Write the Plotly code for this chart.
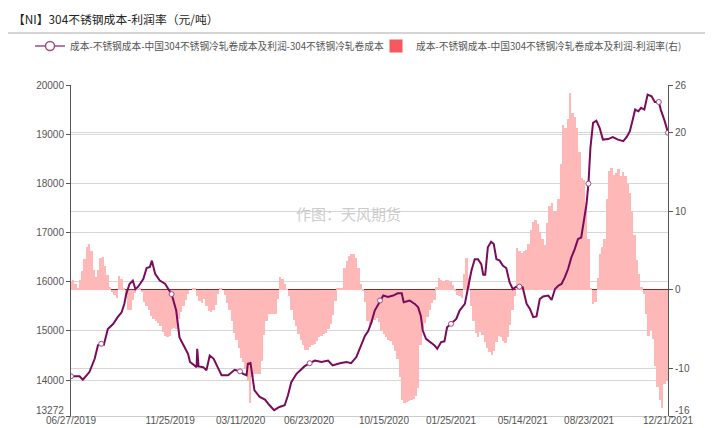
import pandas as pd
import plotly.graph_objects as go

# ---------------- data ----------------
title_text = "【NI】304不锈钢成本-利润率（元/吨）"
line_name = "成本-不锈钢成本-中国304不锈钢冷轧卷成本及利润-304不锈钢冷轧卷成本"
bar_name = "成本-不锈钢成本-中国304不锈钢冷轧卷成本及利润-利润率(右)"

line_dates = [
    "2019-06-27", "2019-07-10", "2019-07-15", "2019-07-25", "2019-08-02", "2019-08-07",
    "2019-08-12", "2019-08-16", "2019-08-22", "2019-08-30", "2019-09-06", "2019-09-12",
    "2019-09-16", "2019-09-19", "2019-09-24", "2019-09-29", "2019-10-03", "2019-10-07",
    "2019-10-15", "2019-10-20", "2019-10-25", "2019-10-28", "2019-11-02", "2019-11-09",
    "2019-11-17", "2019-11-27", "2019-12-04", "2019-12-09", "2019-12-14", "2019-12-22",
    "2019-12-25", "2019-12-31", "2020-01-04", "2020-01-05", "2020-01-07", "2020-01-14",
    "2020-01-19", "2020-01-24", "2020-01-30", "2020-02-05", "2020-02-11", "2020-02-21",
    "2020-03-02", "2020-03-10", "2020-03-15", "2020-03-20", "2020-03-22", "2020-03-26",
    "2020-03-29", "2020-04-01", "2020-04-09", "2020-04-17", "2020-04-24", "2020-05-01",
    "2020-05-09", "2020-05-17", "2020-05-22", "2020-05-27", "2020-06-04", "2020-06-09",
    "2020-06-16", "2020-06-24", "2020-07-02", "2020-07-12", "2020-07-22", "2020-07-29",
    "2020-08-09", "2020-08-19", "2020-08-26", "2020-09-03", "2020-09-11", "2020-09-16",
    "2020-09-21", "2020-09-26", "2020-10-01", "2020-10-09", "2020-10-14", "2020-10-21",
    "2020-10-29", "2020-11-05", "2020-11-11", "2020-11-14", "2020-11-23", "2020-12-01",
    "2020-12-06", "2020-12-10", "2020-12-13", "2020-12-18", "2020-12-25", "2020-12-31",
    "2021-01-04", "2021-01-10", "2021-01-15", "2021-01-19", "2021-01-25", "2021-02-02",
    "2021-02-07", "2021-02-15", "2021-02-20", "2021-02-25", "2021-03-02", "2021-03-07",
    "2021-03-12", "2021-03-15", "2021-03-18", "2021-03-22", "2021-03-27", "2021-03-31",
    "2021-04-04", "2021-04-09", "2021-04-14", "2021-04-19", "2021-04-24", "2021-04-29",
    "2021-05-04", "2021-05-09", "2021-05-14", "2021-05-20", "2021-05-25", "2021-05-30",
    "2021-06-04", "2021-06-09", "2021-06-14", "2021-06-22", "2021-06-27", "2021-07-02",
    "2021-07-07", "2021-07-12", "2021-07-17", "2021-07-22", "2021-07-27", "2021-08-01",
    "2021-08-06", "2021-08-11", "2021-08-14", "2021-08-19", "2021-08-22", "2021-08-25",
    "2021-08-29", "2021-09-03", "2021-09-08", "2021-09-13", "2021-09-21", "2021-09-28",
    "2021-10-06", "2021-10-14", "2021-10-19", "2021-10-24", "2021-10-29", "2021-11-01",
    "2021-11-06", "2021-11-10", "2021-11-15", "2021-11-20", "2021-11-26", "2021-12-01",
    "2021-12-07", "2021-12-10", "2021-12-16", "2021-12-21",
]
line_values = [
    14080, 14080, 14010, 14165, 14435, 14710,
    14740, 14720, 15040, 15140, 15280, 15380,
    15550, 15750, 15955, 16025, 15850, 15900,
    16055, 16280, 16300, 16430, 16160, 16025,
    15960, 15750, 15415, 14870, 14740, 14535,
    14370, 14300, 14265, 14640, 14280, 14265,
    14200, 14500, 14435, 14265, 14100, 14100,
    14210, 14180, 14130, 14100, 14335, 14350,
    14065, 13795, 13660, 13605, 13490, 13390,
    13455, 13490, 13695, 13960, 14130, 14200,
    14280, 14345, 14400, 14370, 14400, 14300,
    14345, 14370, 14345, 14470, 14740, 14900,
    15000, 15180, 15415, 15620, 15720, 15690,
    15720, 15765, 15765, 15585, 15620, 15550,
    15480, 15310, 15010, 14840, 14775, 14705,
    14640, 14775, 14790, 15075, 15145, 15245,
    15415, 15550, 15890, 16225, 16460, 16460,
    16360, 16145, 16145, 16700, 16815, 16770,
    16460, 16430, 16325, 16280, 15990, 15850,
    15900, 15900, 15890, 15550, 15450, 15280,
    15295, 15650, 15700, 15720, 15630, 15850,
    15920, 15955, 16090, 16260, 16495, 16660,
    16865, 16900, 17135, 17575, 17995, 18725,
    19230, 19275, 19130, 18890, 18900, 18940,
    18890, 18860, 18940, 19060, 19330, 19500,
    19465, 19535, 19500, 19805, 19770, 19655,
    19655, 19500, 19265, 19030,
]

# dates where the chart shows a hollow symbol on the line
symbol_dates = ["2019-06-27", "2019-08-12", "2019-11-27", "2020-03-10", "2020-06-24",
                "2020-10-09", "2021-01-25", "2021-05-09", "2021-08-22", "2021-12-07",
                "2021-12-21"]

# profit rate (%), every 3.5 days from 2019-06-27
bar_start = "2019-06-27"
bar_values = [
    1.0, 1.3, 0.8, 0.3, 1.2, 2.4, 3.9, 5.5, 5.8, 5.0,
    2.5, 1.6, 2.5, 4.0, 4.2, 3.0, 1.9, 0.4, -0.3, -0.7,
    -1.0, 1.8, 1.4, 0.3, -1.0, -2.6, -2.6, -1.3, -0.4, 0.1,
    0.2, -0.3, -1.5, -2.1, -2.6, -3.3, -3.7, -4.0, -4.2, -4.6,
    -5.4, -5.8, -6.0, -5.9, -4.9, -4.8, -4.9, -3.7, -2.8, -2.1,
    -1.3, -0.5, 0.0, 0.3, 0.3, -0.8, -1.4, -1.6, -1.1, -2.1,
    -2.7, -2.8, -2.5, -1.9, -0.5, 0.2, 0.0, -0.6, -1.6, -2.6,
    -3.9, -5.5, -6.4, -7.4, -8.6, -9.2, -10.0, -11.5, -14.3, -11.0,
    -10.7, -10.7, -10.7, -9.0, -5.7, -4.0, -3.1, -3.0, -3.0, -3.0,
    -1.1, 1.7, 1.4, 0.8, 0.1, -0.8, -2.6, -3.8, -4.6, -5.6,
    -6.3, -7.0, -7.6, -7.6, -7.3, -7.0, -6.8, -6.5, -6.0, -5.8,
    -5.6, -5.5, -5.0, -4.3, -3.2, -1.4, 0.2, 0.2, 0.3, 2.8,
    3.7, 4.3, 4.6, 4.5, 4.0, 2.8, 0.8, -0.2, -1.5, -4.0,
    -4.4, -4.2, -3.8, -3.6, -4.1, -5.2, -5.6, -6.0, -6.3, -6.5,
    -7.0, -7.8, -8.8, -11.0, -14.0, -14.3, -14.2, -14.1, -14.0, -13.9,
    -13.5, -12.5, -7.0, -4.8, -4.2, -3.4, -2.5, -1.7, -1.3, 0.4,
    1.5, 1.3, 1.1, 1.3, 1.3, 1.1, 0.6, -0.2, -0.6, -0.8,
    -1.0, 2.0, 4.0, 1.5, -2.0, -4.0, -5.5, -6.0, -5.4, -5.7,
    -6.6, -7.4, -7.9, -8.2, -7.7, -6.6, -5.8, -6.0, -6.5, -6.7,
    -6.0, -4.5, -2.5, -0.8, 5.3, 4.9, 4.7, 4.9, 5.1, 5.8,
    7.6, 8.6, 8.9, 8.3, 7.4, 6.5, 5.7, 8.5, 10.6, 11.0,
    10.0, 10.0, 11.5, 16.0, 20.9, 20.5, 21.7, 25.0, 22.5, 22.0,
    20.5, 17.5, 14.2, 14.0, 11.0, 6.5, 0.3, -1.8, -1.5, 1.5,
    4.5, 5.5, 6.5, 11.5, 15.1, 15.5, 14.6, 14.8, 15.4, 14.5,
    15.0, 14.4, 13.5, 12.3, 10.0, 7.0, 3.8, 2.0, 0.4, -0.5,
    -3.0, -5.8, -5.1, -6.2, -9.7, -12.3, -14.0, -15.0, -12.0, -11.6,
]

x_tick_dates = ["2019-06-27", "2019-11-25", "2020-03-11", "2020-06-23", "2020-10-15",
                "2021-01-25", "2021-05-14", "2021-08-23", "2021-12-21"]
x_tick_text = ["06/27/2019", "11/25/2019", "03/11/2020", "06/23/2020", "10/15/2020",
               "01/25/2021", "05/14/2021", "08/23/2021", "12/21/2021"]
left_ticks = [13272, 14000, 15000, 16000, 17000, 18000, 19000, 20000]
right_ticks = [-16, -10, 0, 10, 20, 26]

# ---------------- figure ----------------
FONT = "Noto Sans CJK SC, Liberation Sans, sans-serif"
NUM_FONT = "Liberation Sans, Arial, sans-serif"
LINE_COLOR = "#7a0b5b"
DAY_MS = 86400000
PLOT_H = 428 - 77 - 20

bar_dates = pd.date_range(bar_start, periods=len(bar_values), freq="84h")
line_lookup = dict(zip(line_dates, line_values))
symbol_values = [line_lookup[d] for d in symbol_dates]

fig = go.Figure()

fig.add_trace(go.Bar(
    x=bar_dates, y=bar_values, yaxis="y",
    width=2.9 * DAY_MS,
    marker=dict(color="#ffb8b8", line=dict(width=0)),
    showlegend=False, name=bar_name,
))
fig.add_trace(go.Scatter(
    x=line_dates, y=line_values, yaxis="y2", mode="lines",
    line=dict(color=LINE_COLOR, width=2), showlegend=False, name=line_name,
))
fig.add_trace(go.Scatter(
    x=symbol_dates, y=symbol_values, yaxis="y2", mode="markers",
    marker=dict(size=5, color="white", line=dict(color="#a04a86", width=1)),
    showlegend=False, hoverinfo="skip",
))
# legend entries
fig.add_trace(go.Scatter(
    x=[None], y=[None], yaxis="y2", mode="lines+markers", name=line_name,
    line=dict(color="#a04a86", width=1.5), legend="legend",
    marker=dict(size=9, color="white", line=dict(color="#a04a86", width=1.5)),
))
fig.add_trace(go.Scatter(
    x=[None], y=[None], yaxis="y", mode="markers", name=bar_name, legend="legend2",
    marker=dict(symbol="square", size=13, color="#f5585e"),
))

axis_font = dict(family=NUM_FONT, size=10, color="#555")
legend_font = dict(family=FONT, size=9.7, color="#555")

# the lowest tick labels on both value axes are written as annotations, nudged up a little
left_ticktext = ["" if v == left_ticks[0] else str(v) for v in left_ticks]
right_ticktext = ["" if v == right_ticks[0] else str(v) for v in right_ticks]

fig.update_layout(
    template="none",
    width=713, height=428,
    margin=dict(l=63, r=53, t=77, b=20),
    paper_bgcolor="white", plot_bgcolor="white",
    font=dict(family=FONT, color="#555"),
    bargap=0,
    showlegend=True,
    legend=dict(orientation="h", x=(22 - 63) / 597, xanchor="left",
                y=1 + 39 / PLOT_H, yanchor="middle",
                font=legend_font, bgcolor="rgba(0,0,0,0)", itemwidth=30),
    legend2=dict(orientation="h", x=(368 - 63) / 597, xanchor="left",
                 y=1 + 39 / PLOT_H, yanchor="middle",
                 font=legend_font, bgcolor="rgba(0,0,0,0)", itemwidth=30),
    title=dict(text=title_text, x=0.007, xanchor="left", y=0.972, yanchor="middle",
               font=dict(family=FONT, size=11.8, color="#222")),
    xaxis=dict(type="date", range=["2019-06-27", "2021-12-21"],
               tickmode="array", tickvals=x_tick_dates, ticktext=x_tick_text,
               showgrid=False, zeroline=False, showline=True, linecolor="#cccccc",
               ticks="", ticklen=0, ticklabelstandoff=-5,
               tickfont=axis_font, automargin=False),
    yaxis=dict(side="right", range=[-16, 26], tickmode="array", tickvals=right_ticks,
               ticktext=right_ticktext,
               showgrid=True, gridcolor="#d6d6d6", gridwidth=1,
               zeroline=True, zerolinecolor="#7a2e2e", zerolinewidth=1.2,
               showline=True, linecolor="#555", linewidth=1,
               ticks="outside", ticklen=4, tickcolor="#555",
               tickfont=axis_font, automargin=False),
    yaxis2=dict(side="left", overlaying="y", range=[13272, 20000], tickmode="array",
                tickvals=left_ticks, ticktext=left_ticktext,
                showgrid=True, gridcolor="#d6d6d6", gridwidth=1,
                zeroline=False, showline=True, linecolor="#555", linewidth=1,
                ticks="outside", ticklen=4, tickcolor="#555",
                tickfont=axis_font, automargin=False),
    shapes=[dict(type="line", xref="paper", yref="paper",
                 x0=-63 / 597, x1=1 + 53 / 597, y0=1 + 52 / PLOT_H, y1=1 + 52 / PLOT_H,
                 line=dict(color="#aaaaaa", width=1))],
    annotations=[
        dict(text="作图：天风期货", xref="paper", yref="paper",
             x=0.464, y=1 - 128 / PLOT_H, showarrow=False,
             font=dict(family=FONT, size=15, color="#cccccc")),
        dict(text=str(left_ticks[0]), xref="paper", yref="y2", x=0, y=left_ticks[0],
             xanchor="right", yanchor="middle", xshift=-6, yshift=6, showarrow=False,
             borderpad=0, font=axis_font),
        dict(text=str(right_ticks[0]), xref="paper", yref="y", x=1, y=right_ticks[0],
             xanchor="left", yanchor="middle", xshift=6, yshift=6, showarrow=False,
             borderpad=0, font=axis_font),
    ],
)

fig.write_html("out.html")
